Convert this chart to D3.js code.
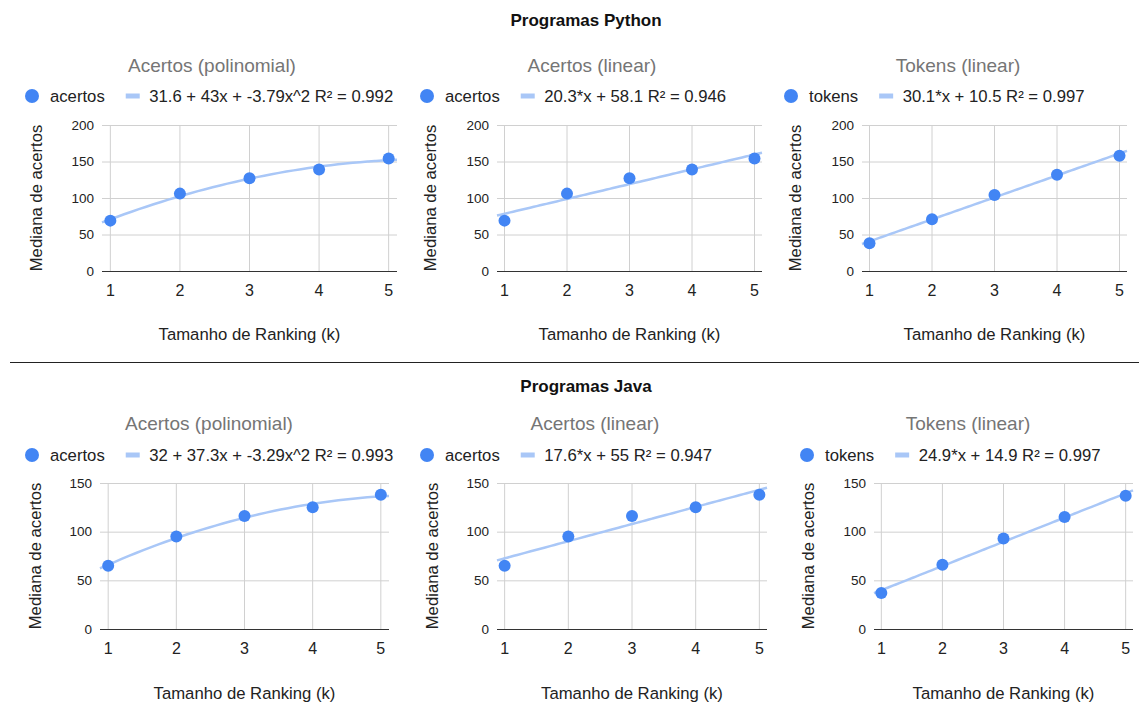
<!DOCTYPE html>
<html>
<head>
<meta charset="utf-8">
<script src="https://cdn.jsdelivr.net/npm/d3@7"></script>
<style>
  body { margin: 0; background: #fff; }
  svg { display: block; font-family: Arial, "Liberation Sans", sans-serif; }
</style>
</head>
<body>
<div id="chart"></div>
<script>
'use strict'

// data
const kValues = [1, 2, 3, 4, 5]
const pyAcertos = [69, 106, 127, 139, 154]
const pyTokens = [38, 71, 104, 132, 158]
const javaAcertos = [65, 95, 116, 125, 138]
const javaTokens = [37, 66, 93, 115, 137]

const pyTicks = [0, 50, 100, 150, 200]
const javaTicks = [0, 50, 100, 150]

// trendline coefficients as shown in the legends (c0 + c1*x + c2*x^2)
const pyPolyCoef = [31.6, 43, -3.79]
const pyLinCoef = [58.1, 20.3]
const pyTokCoef = [10.5, 30.1]
const javaPolyCoef = [32, 37.3, -3.29]
const javaLinCoef = [55, 17.6]
const javaTokCoef = [14.9, 24.9]

const chartTitles = ['Acertos (polinomial)', 'Acertos (linear)', 'Tokens (linear)']
const seriesNames = ['acertos', 'acertos', 'tokens']
const pyLegend = ['31.6 + 43x + -3.79x^2 R² = 0.992', '20.3*x + 58.1 R² = 0.946', '30.1*x + 10.5 R² = 0.997']
const javaLegend = ['32 + 37.3x + -3.29x^2 R² = 0.993', '17.6*x + 55 R² = 0.947', '24.9*x + 14.9 R² = 0.997']
const groupTitles = ['Programas Python', 'Programas Java']

////////////////////////////////////
//////////// svg setup /////////////
////////////////////////////////////

const svgWidth = 1139
const svgHeight = 702

const svg = d3.select('#chart').append('svg')
    .attr('width', svgWidth)
    .attr('height', svgHeight)

const pointColor = '#4285f4'
const trendColor = '#a9c7f7'
const gridColor = '#d0d0d0'
const labelSize = 16.7

// layout of each small chart
const rows = [
    {titleY: 20, chartTitleY: 65, legendY: 96, top: 125, bottom: 271, tickY: 290, axisTitleY: 334,
     ticks: pyTicks, series: [pyAcertos, pyAcertos, pyTokens], coefs: [pyPolyCoef, pyLinCoef, pyTokCoef], legend: pyLegend,
     panels: [
        {left: 102, right: 397, titleX: 212, yTitleX: 36, legendX: 32},
        {left: 497, right: 762, titleX: 592, yTitleX: 430, legendX: 427},
        {left: 862, right: 1127, titleX: 958, yTitleX: 795, legendX: 791}
     ]},
    {titleY: 386, chartTitleY: 423, legendY: 455, top: 483, bottom: 629, tickY: 648, axisTitleY: 693,
     ticks: javaTicks, series: [javaAcertos, javaAcertos, javaTokens], coefs: [javaPolyCoef, javaLinCoef, javaTokCoef], legend: javaLegend,
     panels: [
        {left: 100, right: 389, titleX: 209, yTitleX: 35, legendX: 32},
        {left: 497, right: 767, titleX: 595, yTitleX: 432, legendX: 427},
        {left: 874, right: 1133, titleX: 968, yTitleX: 808, legendX: 807}
     ]}
]

// group titles + separator
rows.forEach((row, r) => {
    svg.append('text')
        .attr('x', 586)
        .attr('y', row.titleY)
        .attr('text-anchor', 'middle')
        .attr('dominant-baseline', 'central')
        .attr('font-size', 17)
        .attr('font-weight', 'bold')
        .attr('fill', '#111')
        .text(groupTitles[r])
})

svg.append('line')
    .attr('x1', 10).attr('x2', svgWidth)
    .attr('y1', 362.5).attr('y2', 362.5)
    .attr('stroke', '#222')
    .attr('stroke-width', 1)

rows.forEach(row => {
    row.panels.forEach((p, i) => {
        const g = svg.append('g')
        const values = row.series[i]
        const coef = row.coefs[i]

        const x = d3.scaleLinear().domain([0.88, 5.12]).range([p.left, p.right])
        const y = d3.scaleLinear().domain([0, d3.max(row.ticks)]).range([row.bottom, row.top])

        // chart title
        g.append('text')
            .attr('x', p.titleX)
            .attr('y', row.chartTitleY)
            .attr('text-anchor', 'middle')
            .attr('dominant-baseline', 'central')
            .attr('font-size', 19)
            .attr('fill', '#757575')
            .text(chartTitles[i])

        // legend
        const lg = g.append('g').attr('transform', `translate(${p.legendX},${row.legendY})`)
        lg.append('circle').attr('r', 7).attr('fill', pointColor)
        const t1 = lg.append('text')
            .attr('x', 18)
            .attr('dominant-baseline', 'central')
            .attr('font-size', labelSize)
            .attr('fill', '#222')
            .text(seriesNames[i])
        const w1 = t1.node().getComputedTextLength()
        const lx = 18 + w1 + 21
        lg.append('line')
            .attr('x1', lx).attr('x2', lx + 14)
            .attr('y1', 0).attr('y2', 0)
            .attr('stroke', trendColor)
            .attr('stroke-width', 5)
        lg.append('text')
            .attr('x', lx + 23.5)
            .attr('dominant-baseline', 'central')
            .attr('font-size', labelSize)
            .attr('fill', '#222')
            .text(row.legend[i])

        // horizontal grid
        g.selectAll('.hgrid')
            .data(row.ticks.filter(d => d > 0))
            .join('line')
            .attr('x1', p.left).attr('x2', p.right)
            .attr('y1', d => y(d) + 0.5).attr('y2', d => y(d) + 0.5)
            .attr('stroke', gridColor)

        // vertical grid
        g.selectAll('.vgrid')
            .data(kValues)
            .join('line')
            .attr('x1', d => x(d)).attr('x2', d => x(d))
            .attr('y1', row.top).attr('y2', row.bottom)
            .attr('stroke', gridColor)

        // y tick labels
        g.selectAll('.ytick')
            .data(row.ticks)
            .join('text')
            .attr('x', p.left - 8)
            .attr('y', d => y(d))
            .attr('text-anchor', 'end')
            .attr('dominant-baseline', 'central')
            .attr('font-size', 13.5)
            .attr('fill', '#222')
            .text(d => d)

        // x tick labels
        g.selectAll('.xtick')
            .data(kValues)
            .join('text')
            .attr('x', d => x(d))
            .attr('y', row.tickY)
            .attr('text-anchor', 'middle')
            .attr('dominant-baseline', 'central')
            .attr('font-size', 16)
            .attr('fill', '#222')
            .text(d => d)

        // baseline
        g.append('line')
            .attr('x1', p.left).attr('x2', p.right)
            .attr('y1', y(0) + 0.5).attr('y2', y(0) + 0.5)
            .attr('stroke', '#333')

        // axis titles
        g.append('text')
            .attr('x', (p.left + p.right) / 2)
            .attr('y', row.axisTitleY)
            .attr('text-anchor', 'middle')
            .attr('dominant-baseline', 'central')
            .attr('font-size', labelSize)
            .attr('fill', '#222')
            .text('Tamanho de Ranking (k)')

        g.append('text')
            .attr('transform', `translate(${p.yTitleX},${(row.top + row.bottom) / 2}) rotate(-90)`)
            .attr('text-anchor', 'middle')
            .attr('dominant-baseline', 'central')
            .attr('font-size', labelSize)
            .attr('fill', '#222')
            .text('Mediana de acertos')

        // trendline
        const trend = k => coef.reduce((s, c, j) => s + c * Math.pow(k, j), 0)
        const xs = d3.range(0, 41).map(j => 0.88 + j * (5.12 - 0.88) / 40)
        g.append('path')
            .datum(xs)
            .attr('d', d3.line().x(d => x(d)).y(d => y(trend(d))).curve(d3.curveMonotoneX))
            .attr('fill', 'none')
            .attr('stroke', trendColor)
            .attr('stroke-width', 2.5)

        // points
        g.selectAll('.pt')
            .data(values)
            .join('circle')
            .attr('cx', (d, j) => x(kValues[j]))
            .attr('cy', d => y(d))
            .attr('r', 6)
            .attr('fill', pointColor)
    })
})
</script>
</body>
</html>
